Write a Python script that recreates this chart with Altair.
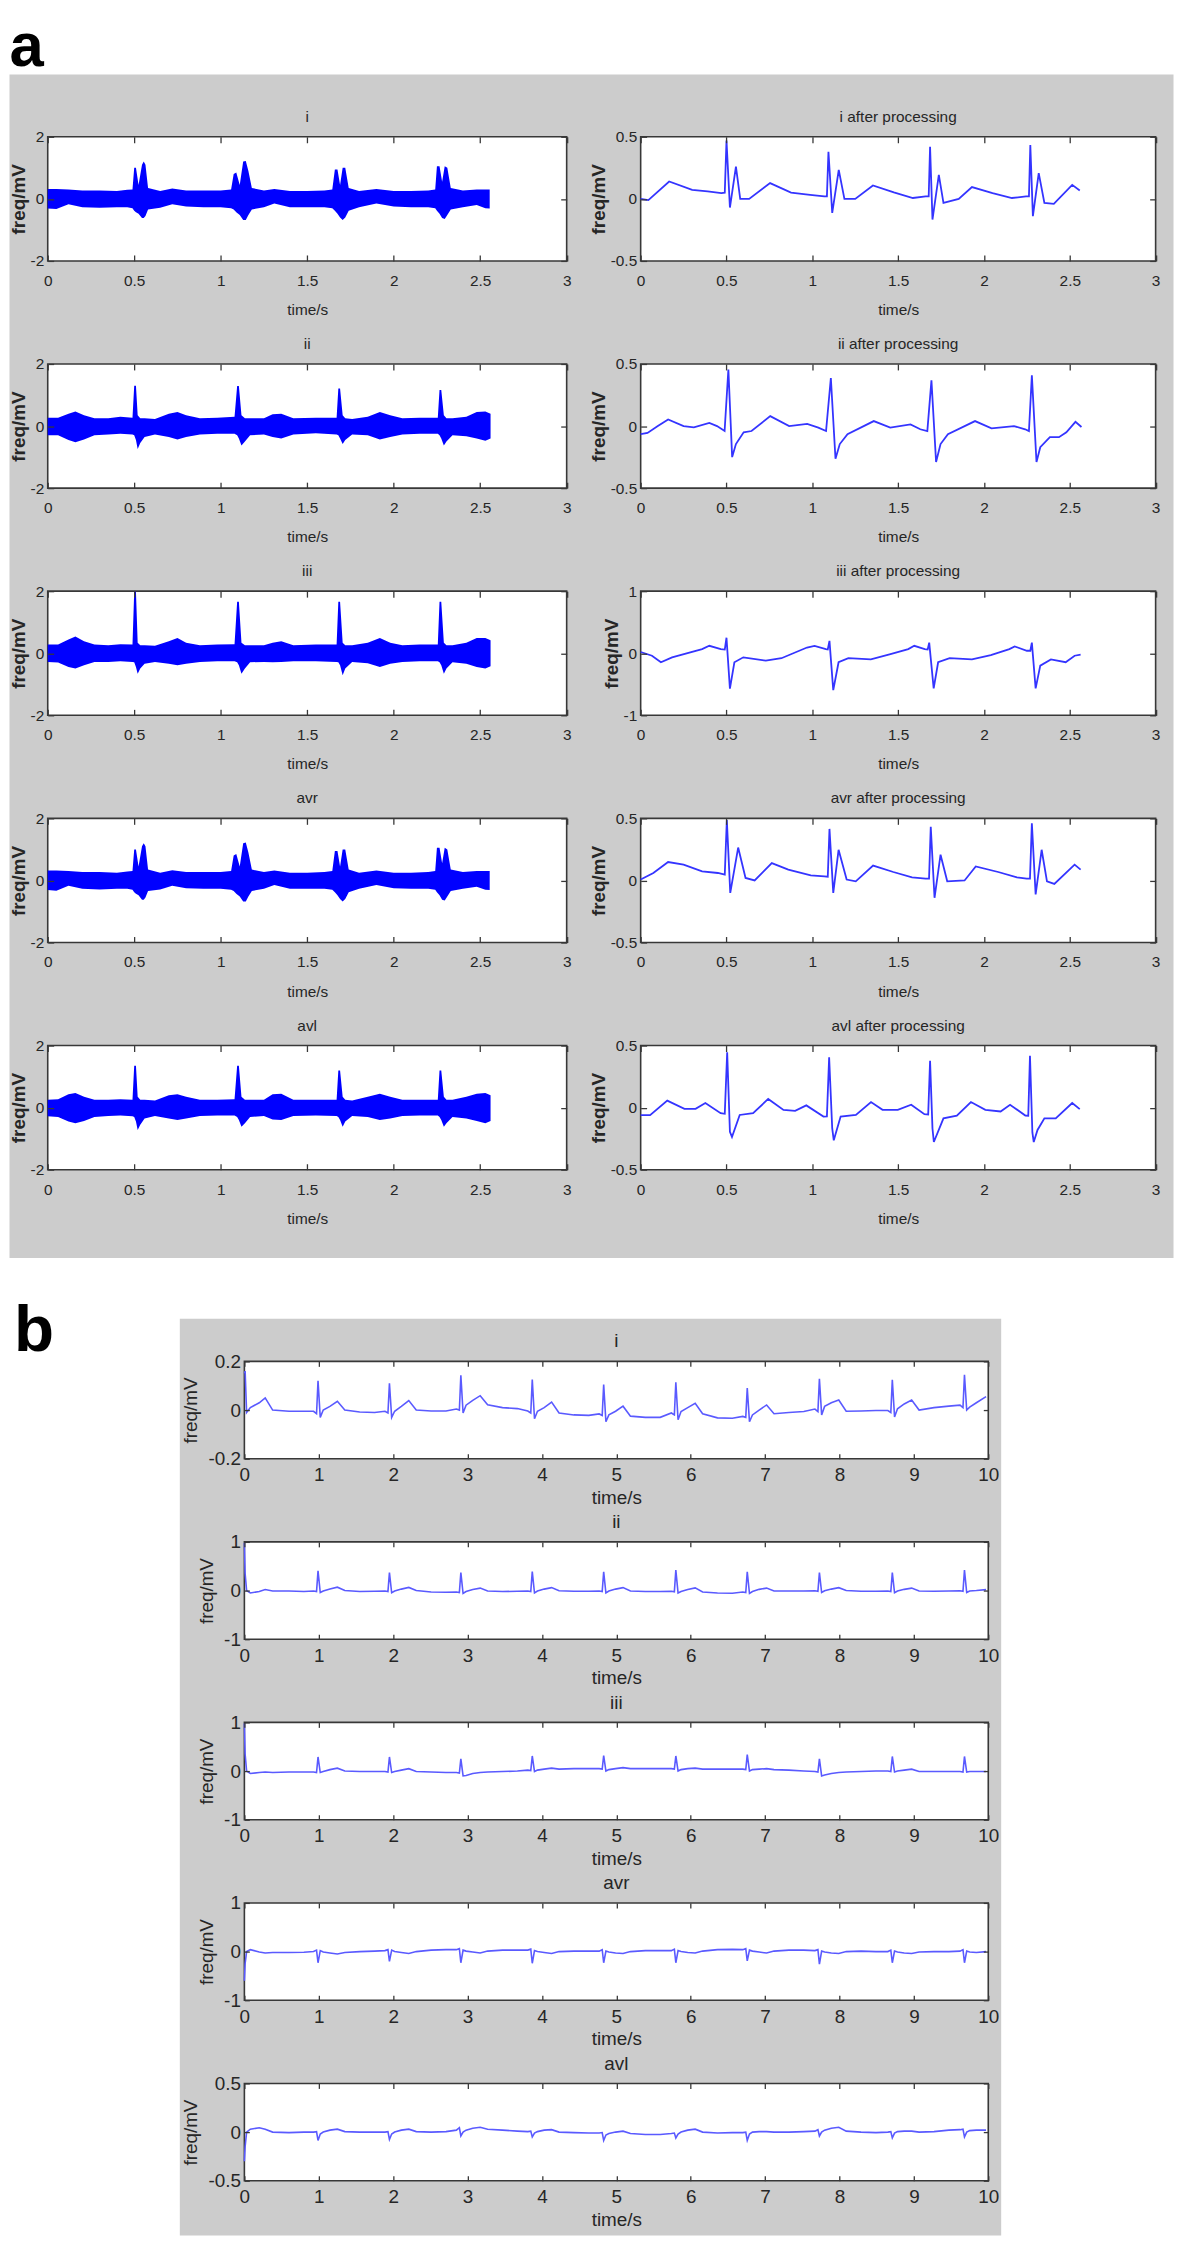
import altair as alt
import pandas as pd

# ---------------- Part a : raw leads (band envelopes) ----------------
I_RAW_T = [0, 0.05, 0.12, 0.2, 0.3, 0.4, 0.46, 0.49, 0.50, 0.51,
           0.525, 0.545, 0.555, 0.565, 0.58, 0.65, 0.72, 0.8, 0.9, 1.0,
           1.06, 1.075, 1.09, 1.11, 1.13, 1.145, 1.16, 1.18, 1.25, 1.31,
           1.4, 1.5, 1.6, 1.645, 1.66, 1.675, 1.69, 1.705, 1.72, 1.74,
           1.8, 1.9, 2.0, 2.1, 2.2, 2.24, 2.25, 2.265, 2.28, 2.295,
           2.31, 2.33, 2.4, 2.48, 2.53, 2.555]
I_RAW_UP = [0.32, 0.32, 0.3, 0.27, 0.27, 0.25, 0.29, 0.3, 1.0, 1.0,
            0.45, 1.1, 1.2, 1.1, 0.35, 0.25, 0.33, 0.27, 0.27, 0.27,
            0.3, 0.8, 0.85, 0.45, 1.2, 1.22, 0.9, 0.35, 0.27, 0.32,
            0.25, 0.25, 0.27, 0.3, 0.95, 0.95, 0.45, 1.0, 1.0, 0.35,
            0.25, 0.32, 0.25, 0.25, 0.27, 0.3, 1.05, 1.05, 0.55, 1.05,
            1.0, 0.35, 0.27, 0.3, 0.3, 0.3]
I_RAW_LO = [-0.31, -0.33, -0.17, -0.27, -0.29, -0.27, -0.27, -0.3, -0.38, -0.43,
            -0.48, -0.62, -0.62, -0.55, -0.34, -0.29, -0.17, -0.25, -0.27, -0.27,
            -0.3, -0.34, -0.43, -0.52, -0.68, -0.68, -0.52, -0.34, -0.27, -0.15,
            -0.27, -0.27, -0.27, -0.3, -0.38, -0.48, -0.6, -0.68, -0.6, -0.38,
            -0.27, -0.15, -0.25, -0.27, -0.27, -0.3, -0.38, -0.48, -0.62, -0.65,
            -0.52, -0.34, -0.27, -0.2, -0.3, -0.31]

II_RAW_T = [0, 0.06, 0.12, 0.16, 0.21, 0.27, 0.35, 0.42, 0.49, 0.50,
            0.51, 0.52, 0.535, 0.56, 0.62, 0.7, 0.75, 0.8, 0.88, 0.98,
            1.08, 1.095, 1.105, 1.12, 1.14, 1.17, 1.25, 1.3, 1.35, 1.42,
            1.55, 1.67, 1.68, 1.69, 1.705, 1.72, 1.76, 1.85, 1.92, 1.98,
            2.05, 2.15, 2.255, 2.265, 2.275, 2.29, 2.305, 2.34, 2.42, 2.48,
            2.53, 2.56]
II_RAW_UP = [0.27, 0.27, 0.4, 0.47, 0.35, 0.25, 0.25, 0.3, 0.27, 1.3,
             1.3, 0.35, 0.25, 0.25, 0.23, 0.4, 0.45, 0.35, 0.25, 0.27,
             0.3, 1.29, 1.29, 0.35, 0.25, 0.25, 0.25, 0.38, 0.4, 0.25,
             0.27, 0.27, 1.21, 1.21, 0.35, 0.25, 0.23, 0.3, 0.45, 0.35,
             0.25, 0.27, 0.27, 1.16, 1.16, 0.35, 0.25, 0.25, 0.3, 0.45,
             0.47, 0.4]
II_RAW_LO = [-0.3, -0.3, -0.45, -0.52, -0.43, -0.3, -0.27, -0.25, -0.27, -0.3,
             -0.45, -0.74, -0.55, -0.35, -0.27, -0.35, -0.43, -0.35, -0.27, -0.25,
             -0.25, -0.3, -0.4, -0.63, -0.5, -0.3, -0.27, -0.35, -0.4, -0.27,
             -0.23, -0.27, -0.3, -0.4, -0.58, -0.45, -0.27, -0.3, -0.43, -0.35,
             -0.27, -0.25, -0.25, -0.3, -0.4, -0.63, -0.5, -0.3, -0.33, -0.4,
             -0.47, -0.4]

III_RAW_UP = [0.28, 0.28, 0.44, 0.54, 0.39, 0.28, 0.26, 0.29, 0.28, 1.98,
              1.98, 0.34, 0.26, 0.26, 0.24, 0.39, 0.49, 0.34, 0.26, 0.28,
              0.29, 1.66, 1.66, 0.34, 0.26, 0.26, 0.26, 0.34, 0.39, 0.26,
              0.28, 0.28, 1.66, 1.66, 0.34, 0.26, 0.26, 0.34, 0.49, 0.34,
              0.26, 0.28, 0.28, 1.66, 1.66, 0.34, 0.26, 0.26, 0.34, 0.49,
              0.49, 0.42]
III_RAW_LO = [-0.28, -0.3, -0.44, -0.49, -0.39, -0.28, -0.28, -0.26, -0.28, -0.29,
              -0.44, -0.66, -0.49, -0.34, -0.28, -0.34, -0.39, -0.34, -0.28, -0.26,
              -0.26, -0.29, -0.39, -0.66, -0.49, -0.29, -0.28, -0.29, -0.28, -0.26,
              -0.26, -0.28, -0.29, -0.39, -0.71, -0.49, -0.28, -0.32, -0.44, -0.34,
              -0.28, -0.26, -0.26, -0.29, -0.39, -0.66, -0.49, -0.29, -0.34, -0.44,
              -0.49, -0.42]

AVL_RAW_UP = [0.25, 0.27, 0.43, 0.47, 0.35, 0.25, 0.25, 0.27, 0.25, 1.35,
              1.35, 0.35, 0.25, 0.25, 0.23, 0.4, 0.43, 0.35, 0.25, 0.25,
              0.27, 1.35, 1.35, 0.35, 0.25, 0.25, 0.25, 0.43, 0.45, 0.25,
              0.25, 0.25, 1.2, 1.2, 0.35, 0.25, 0.23, 0.35, 0.45, 0.35,
              0.25, 0.25, 0.25, 1.2, 1.2, 0.35, 0.25, 0.25, 0.35, 0.45,
              0.47, 0.4]
AVL_RAW_LO = [-0.28, -0.3, -0.45, -0.5, -0.43, -0.3, -0.27, -0.25, -0.28, -0.3,
              -0.45, -0.72, -0.55, -0.35, -0.27, -0.35, -0.4, -0.35, -0.27, -0.25,
              -0.25, -0.3, -0.4, -0.62, -0.5, -0.3, -0.27, -0.38, -0.4, -0.27,
              -0.25, -0.27, -0.3, -0.4, -0.62, -0.45, -0.27, -0.3, -0.4, -0.35,
              -0.27, -0.25, -0.25, -0.3, -0.4, -0.62, -0.5, -0.3, -0.35, -0.43,
              -0.5, -0.43]

# ---------------- Part a : processed leads ----------------
I_PROC_T = [0, 0.045, 0.166, 0.30, 0.39, 0.47, 0.49, 0.50, 0.52, 0.555,
            0.58, 0.632, 0.754, 0.876, 0.987, 1.07, 1.085, 1.094, 1.116, 1.154,
            1.187, 1.25, 1.353, 1.475, 1.586, 1.66, 1.678, 1.686, 1.70, 1.737,
            1.764, 1.853, 1.93, 2.05, 2.163, 2.245, 2.262, 2.27, 2.285, 2.319,
            2.352, 2.407, 2.514, 2.558]
I_PROC_V = [0.0, -0.01, 0.14, 0.073, 0.06, 0.047, 0.05, 0.47, -0.07, 0.26,
            0.0, 0.0, 0.127, 0.05, 0.033, 0.02, 0.02, 0.38, -0.113, 0.233,
            0.0, 0.0, 0.108, 0.052, 0.007, 0.02, 0.02, 0.42, -0.167, 0.193,
            -0.033, 0.0, 0.095, 0.047, 0.007, 0.02, 0.02, 0.433, -0.14, 0.207,
            -0.033, -0.04, 0.113, 0.068]

II_PROC_T = [0, 0.04, 0.1, 0.16, 0.25, 0.31, 0.40, 0.445, 0.489, 0.511,
             0.533, 0.555, 0.6, 0.646, 0.755, 0.865, 0.97, 1.035, 1.08, 1.108,
             1.135, 1.16, 1.205, 1.358, 1.454, 1.572, 1.629, 1.67, 1.694, 1.721,
             1.747, 1.79, 1.948, 2.044, 2.175, 2.24, 2.262, 2.279, 2.306, 2.328,
             2.384, 2.437, 2.48, 2.533, 2.568]
II_PROC_V = [-0.066, -0.055, 0.0, 0.053, 0.0, -0.01, 0.026, 0.0, -0.04, 0.455,
             -0.25, -0.145, -0.05, -0.04, 0.08, 0.0, 0.018, -0.013, -0.04, 0.387,
             -0.263, -0.145, -0.066, 0.04, -0.013, 0.013, -0.026, -0.04, 0.368, -0.29,
             -0.145, -0.066, 0.04, -0.018, 0.0, -0.026, -0.04, 0.408, -0.29, -0.17,
             -0.09, -0.09, -0.05, 0.034, -0.008]

III_PROC_T = [0, 0.066, 0.118, 0.183, 0.358, 0.40, 0.467, 0.49, 0.50, 0.52,
              0.546, 0.598, 0.729, 0.82, 0.969, 1.013, 1.079, 1.09, 1.1, 1.122,
              1.153, 1.21, 1.341, 1.45, 1.559, 1.594, 1.655, 1.672, 1.681, 1.707,
              1.733, 1.8, 1.93, 2.04, 2.148, 2.179, 2.25, 2.27, 2.279, 2.301,
              2.328, 2.39, 2.476, 2.528, 2.563]
III_PROC_V = [0.02, -0.04, -0.145, -0.066, 0.066, 0.12, 0.066, 0.06, 0.25, -0.57,
              -0.145, -0.066, -0.12, -0.08, 0.092, 0.118, 0.066, 0.06, 0.2, -0.594,
              -0.145, -0.08, -0.1, -0.02, 0.066, 0.12, 0.066, 0.06, 0.17, -0.567,
              -0.145, -0.08, -0.1, -0.03, 0.066, 0.11, 0.04, 0.04, 0.17, -0.567,
              -0.2, -0.1, -0.145, -0.04, -0.024]

AVR_PROC_T = [0, 0.074, 0.16, 0.25, 0.358, 0.45, 0.49, 0.502, 0.522, 0.568,
              0.611, 0.664, 0.764, 0.86, 0.991, 1.07, 1.09, 1.1, 1.122, 1.153,
              1.2, 1.253, 1.354, 1.472, 1.581, 1.66, 1.68, 1.69, 1.712, 1.747,
              1.786, 1.887, 1.952, 2.083, 2.192, 2.249, 2.268, 2.279, 2.301, 2.336,
              2.367, 2.41, 2.528, 2.563]
AVR_PROC_V = [0.007, 0.06, 0.148, 0.127, 0.073, 0.06, 0.047, 0.487, -0.1, 0.265,
              0.02, 0.0, 0.14, 0.087, 0.041, 0.033, 0.03, 0.415, -0.1, 0.247,
              0.007, -0.007, 0.12, 0.068, 0.025, 0.015, 0.015, 0.433, -0.14, 0.207,
              -0.007, 0.0, 0.113, 0.068, 0.025, 0.015, 0.015, 0.46, -0.113, 0.247,
              -0.007, -0.028, 0.127, 0.087]

AVL_PROC_T = [0, 0.055, 0.155, 0.255, 0.32, 0.377, 0.466, 0.49, 0.504, 0.52,
              0.532, 0.577, 0.655, 0.743, 0.832, 0.9, 0.965, 1.065, 1.085, 1.098,
              1.116, 1.125, 1.165, 1.254, 1.342, 1.409, 1.498, 1.576, 1.653, 1.675,
              1.686, 1.70, 1.708, 1.764, 1.842, 1.924, 2.008, 2.097, 2.152, 2.241,
              2.258, 2.268, 2.282, 2.29, 2.312, 2.352, 2.418, 2.514, 2.558]
AVL_PROC_V = [-0.06, -0.06, 0.056, -0.01, -0.01, 0.037, -0.045, -0.05, 0.445, -0.195,
              -0.236, -0.059, -0.045, 0.07, -0.018, -0.026, 0.018, -0.072, -0.07, 0.405,
              -0.168, -0.263, -0.072, -0.059, 0.045, -0.018, -0.018, 0.023, -0.053, -0.055,
              0.377, -0.168, -0.277, -0.086, -0.064, 0.045, -0.018, -0.031, 0.023, -0.064,
              -0.065, 0.418, -0.2, -0.277, -0.18, -0.086, -0.086, 0.037, -0.012]

# ---------------- Part b : 10 s recordings (shared time base) ----------------
B_T = [0.0, 0.01, 0.03, 0.08, 0.2, 0.28, 0.38, 0.6, 0.8,
       0.93, 0.97, 0.99, 1.02, 1.06, 1.15, 1.25, 1.35, 1.55, 1.75,
       1.89, 1.93, 1.95, 1.98, 2.02, 2.11, 2.21, 2.31, 2.51, 2.71,
       2.85, 2.89, 2.91, 2.94, 2.98, 3.07, 3.17, 3.27, 3.47, 3.67,
       3.81, 3.85, 3.87, 3.90, 3.94, 4.03, 4.13, 4.23, 4.43, 4.63,
       4.77, 4.81, 4.83, 4.86, 4.90, 4.99, 5.09, 5.19, 5.39, 5.59,
       5.74, 5.78, 5.80, 5.83, 5.87, 5.96, 6.06, 6.16, 6.36, 6.56,
       6.70, 6.74, 6.76, 6.79, 6.83, 6.92, 7.02, 7.12, 7.32, 7.52,
       7.67, 7.71, 7.73, 7.76, 7.80, 7.89, 7.99, 8.09, 8.29, 8.49,
       8.65, 8.69, 8.71, 8.74, 8.78, 8.87, 8.97, 9.07, 9.27, 9.47,
       9.62, 9.66, 9.68, 9.71, 9.75, 9.84, 9.97]
B_I = [0.15, 0.16, -0.01, 0.01, 0.03, 0.05, 0.0, -0.005, -0.005,
       -0.005, -0.015, 0.12, -0.03, 0.0, 0.015, 0.036, 0.0, -0.008, -0.01,
       -0.005, -0.012, 0.11, -0.03, -0.005, 0.015, 0.039, 0.0, -0.004, -0.004,
       0.004, 0.0, 0.143, -0.012, 0.02, 0.04, 0.059, 0.022, 0.01, 0.006,
       -0.004, -0.012, 0.125, -0.036, -0.005, 0.01, 0.033, -0.012, -0.02, -0.022,
       -0.016, -0.022, 0.105, -0.048, -0.02, -0.005, 0.016, -0.025, -0.03, -0.03,
       -0.012, -0.02, 0.114, -0.04, -0.006, 0.01, 0.028, -0.015, -0.032, -0.034,
       -0.026, -0.03, 0.09, -0.048, -0.02, 0.0, 0.021, -0.015, -0.01, -0.006,
       0.004, -0.006, 0.128, -0.02, 0.015, 0.03, 0.041, -0.005, -0.004, -0.002,
       -0.002, -0.01, 0.124, -0.028, 0.005, 0.025, 0.041, 0.0, 0.01, 0.016,
       0.02, 0.01, 0.145, 0.0, 0.012, 0.03, 0.055]
B_II = [0.98, 0.35, 0.0, -0.05, -0.02, 0.02, -0.01, -0.01, -0.02,
        -0.01, -0.02, 0.405, -0.04, -0.01, 0.03, 0.07, 0.0, -0.02, -0.015,
        -0.01, -0.02, 0.37, -0.045, -0.01, 0.03, 0.065, 0.0, -0.03, -0.035,
        -0.03, -0.04, 0.37, -0.06, -0.02, 0.02, 0.05, -0.01, -0.02, -0.015,
        -0.01, -0.02, 0.39, -0.05, -0.01, 0.03, 0.06, -0.005, -0.015, -0.014,
        -0.01, -0.02, 0.385, -0.05, -0.01, 0.03, 0.06, -0.01, -0.02, -0.02,
        -0.015, -0.025, 0.42, -0.05, -0.02, 0.02, 0.055, -0.03, -0.05, -0.054,
        -0.03, -0.04, 0.385, -0.06, -0.02, 0.025, 0.05, -0.01, -0.01, -0.01,
        -0.005, -0.015, 0.37, -0.04, -0.005, 0.03, 0.06, 0.0, -0.014, -0.014,
        -0.01, -0.02, 0.37, -0.045, -0.01, 0.025, 0.05, -0.01, -0.015, -0.01,
        -0.005, -0.015, 0.42, -0.04, -0.01, 0.0, 0.02]
B_III = [0.98, 0.35, 0.0, -0.05, -0.03, -0.02, -0.03, -0.02, -0.02,
         -0.02, -0.03, 0.29, -0.03, -0.01, 0.03, 0.06, 0.0, -0.01, -0.01,
         -0.01, -0.02, 0.29, -0.03, -0.01, 0.02, 0.05, -0.01, -0.02, -0.03,
         -0.03, -0.04, 0.25, -0.1, -0.09, -0.05, -0.03, -0.02, -0.01, 0.0,
         0.02, 0.01, 0.31, -0.01, 0.02, 0.04, 0.06, 0.04, 0.05, 0.05,
         0.05, 0.04, 0.32, 0.0, 0.03, 0.05, 0.07, 0.05, 0.05, 0.05,
         0.05, 0.04, 0.31, 0.0, 0.03, 0.05, 0.06, 0.04, 0.04, 0.04,
         0.04, 0.03, 0.34, 0.0, 0.03, 0.04, 0.05, 0.03, 0.02, 0.0,
         -0.01, -0.02, 0.25, -0.1, -0.08, -0.05, -0.03, -0.02, -0.01, 0.0,
         0.0, -0.01, 0.3, -0.02, 0.0, 0.02, 0.04, -0.01, -0.01, -0.01,
         -0.01, -0.02, 0.3, -0.02, -0.01, -0.01, -0.01]
B_AVR = [-0.6, -0.25, 0.0, 0.04, -0.01, -0.03, -0.02, -0.02, -0.015,
         0.0, 0.03, -0.23, 0.02, -0.01, -0.03, -0.05, -0.02, 0.0, 0.01,
         0.02, 0.04, -0.2, 0.03, 0.0, -0.02, -0.04, 0.0, 0.03, 0.04,
         0.04, 0.06, -0.23, 0.03, 0.01, -0.01, -0.03, 0.01, 0.03, 0.03,
         0.03, 0.05, -0.24, 0.02, 0.0, -0.02, -0.04, 0.0, 0.01, 0.01,
         0.01, 0.04, -0.23, 0.01, -0.01, -0.03, -0.04, 0.0, 0.02, 0.02,
         0.02, 0.05, -0.23, 0.02, 0.0, -0.02, -0.03, 0.01, 0.04, 0.045,
         0.04, 0.06, -0.19, 0.03, 0.01, -0.01, -0.03, 0.01, 0.03, 0.03,
         0.02, 0.04, -0.26, 0.01, -0.01, -0.03, -0.04, 0.0, 0.01, 0.0,
         0.0, 0.03, -0.23, 0.01, -0.01, -0.03, -0.04, -0.01, 0.0, 0.0,
         0.01, 0.04, -0.23, 0.01, -0.01, -0.02, 0.0]
B_AVL = [-0.3, -0.15, 0.0, 0.03, 0.045, 0.03, 0.0, -0.005, 0.0,
         0.0, 0.005, -0.086, -0.02, 0.0, 0.02, 0.03, 0.005, 0.0, 0.0,
         0.0, 0.005, -0.076, -0.02, 0.0, 0.02, 0.03, 0.005, 0.0, 0.005,
         0.02, 0.045, -0.04, 0.0, 0.02, 0.04, 0.05, 0.03, 0.02, 0.01,
         0.005, 0.01, -0.05, -0.01, 0.005, 0.02, 0.025, 0.0, -0.005, -0.01,
         -0.01, -0.005, -0.086, -0.03, -0.015, 0.0, 0.01, -0.015, -0.025, -0.025,
         -0.015, -0.01, -0.06, -0.02, 0.0, 0.02, 0.03, 0.0, -0.01, -0.005,
         -0.005, 0.0, -0.086, -0.02, 0.0, 0.005, 0.005, 0.0, 0.0, 0.005,
         0.01, 0.025, -0.04, 0.0, 0.02, 0.04, 0.05, 0.01, 0.0, -0.005,
         0.0, 0.005, -0.06, -0.01, 0.005, 0.01, 0.01, 0.0, 0.005, 0.02,
         0.025, 0.03, -0.05, 0.0, 0.015, 0.02, 0.02]

A_XTICKS = [0, 0.5, 1, 1.5, 2, 2.5, 3]
B_XTICKS = [0, 1, 2, 3, 4, 5, 6, 7, 8, 9, 10]

# ---------------- styling ----------------
FONT = "Liberation Sans, Arial, sans-serif"
GREY = "#cccccc"
BOX = "#383838"
TXT = "#262626"
RAW_BLUE = "#0000ff"
PROC_BLUE = "#3434ff"
B_BLUE = "#5a5aff"
ONE = alt.Data(values=[{"k": 0}])

STYLE_A = dict(fs=15.5, tick=6, xlp=12.5, xtp=14, ylp=4, ytp=2,
               ytw="bold", tb=-15, lw=1.8, col=PROC_BLUE)
STYLE_B = dict(fs=19, tick=5, xlp=7, xtp=4, ylp=4, ytp=7,
               ytw="normal", tb=-14, lw=1.6, col=B_BLUE)

LBL = "'' + datum.value"


def panel(df, kind, xdom, xticks, ydom, yticks, W, H, title, s, pre=()):
    xs = alt.Scale(domain=xdom, nice=False, zero=False)
    ys = alt.Scale(domain=ydom, nice=False, zero=False)
    tk = dict(offset=-s["tick"], tickSize=s["tick"], tickWidth=1.3, tickColor=BOX,
              domain=False, grid=False, zindex=1)
    xb = alt.Axis(orient="bottom", values=xticks, labelExpr=LBL, labelFont=FONT,
                  labelFontSize=s["fs"], labelColor=TXT, labelPadding=s["xlp"],
                  labelFlush=False, labelOverlap=False, title="time/s",
                  titleFont=FONT, titleFontSize=s["fs"], titleFontWeight="normal",
                  titleColor=TXT, titlePadding=s["xtp"], **tk)
    yl = alt.Axis(orient="left", values=yticks, labelExpr=LBL, labelFont=FONT,
                  labelFontSize=s["fs"], labelColor=TXT, labelPadding=s["ylp"],
                  labelFlush=False, labelOverlap=False, title="freq/mV",
                  titleFont=FONT, titleFontSize=19, titleFontWeight=s["ytw"],
                  titleColor=TXT, titlePadding=s["ytp"], **tk)
    xt = alt.Axis(orient="top", values=xticks, labels=False, title=None, **tk)
    yr = alt.Axis(orient="right", values=yticks, labels=False, title=None, **tk)

    box = alt.Chart(ONE).mark_rect(fill="white", stroke=BOX, strokeWidth=1.6).encode(
        x=alt.value(0), x2=alt.value(W), y=alt.value(0), y2=alt.value(H))
    if kind == "band":
        main = alt.Chart(df).mark_area(color=RAW_BLUE, opacity=1).encode(
            x=alt.X("t:Q", scale=xs, axis=xb),
            y=alt.Y("up:Q", scale=ys, axis=yl),
            y2="lo:Q")
        ghost = alt.Chart(df).mark_line(opacity=0).encode(
            x=alt.X("t:Q", scale=xs, axis=xt),
            y=alt.Y("up:Q", scale=ys, axis=yr))
    else:
        main = alt.Chart(df).mark_line(color=s["col"], strokeWidth=s["lw"]).encode(
            x=alt.X("t:Q", scale=xs, axis=xb),
            y=alt.Y("v:Q", scale=ys, axis=yl))
        ghost = alt.Chart(df).mark_line(opacity=0).encode(
            x=alt.X("t:Q", scale=xs, axis=xt),
            y=alt.Y("v:Q", scale=ys, axis=yr))
    ttl = alt.Chart(ONE).mark_text(text=title, font=FONT, fontSize=s["fs"],
                                   color=TXT, align="center", baseline="alphabetic").encode(
        x=alt.value(W / 2), y=alt.value(s["tb"]))
    layers = list(pre) + [box, main, ghost, ttl]
    return alt.layer(*layers).properties(width=W, height=H).resolve_axis(
        x="independent", y="independent")


def band(t, up, lo):
    return pd.DataFrame({"t": t, "up": up, "lo": lo})


def line(t, v):
    return pd.DataFrame({"t": t, "v": v})


# ---------------- Part a ----------------
WL, WR, HA = 522.5, 518.5, 125
grey_a = alt.Chart(ONE).mark_rect(fill=GREY).encode(
    x=alt.value(-38.5), x2=alt.value(1133.5), y=alt.value(-62.7), y2=alt.value(1129))
label_a = alt.Chart(ONE).mark_text(text="a", font=FONT, fontSize=62, fontWeight="bold",
                                   color="black", align="left", baseline="alphabetic").encode(
    x=alt.value(-38.5), y=alt.value(-71.2))

raw_y = ([-2, 2], [-2, 0, 2])
half_y = ([-0.5, 0.5], [-0.5, 0, 0.5])
one_y = ([-1, 1], [-1, 0, 1])

a_panels = [
    panel(band(I_RAW_T, I_RAW_UP, I_RAW_LO), "band", [0, 3], A_XTICKS, *raw_y, WL, HA, "i",
          STYLE_A, pre=(grey_a, label_a)),
    panel(line(I_PROC_T, I_PROC_V), "line", [0, 3], A_XTICKS, *half_y, WR, HA,
          "i after processing", STYLE_A),
    panel(band(II_RAW_T, II_RAW_UP, II_RAW_LO), "band", [0, 3], A_XTICKS, *raw_y, WL, HA, "ii",
          STYLE_A),
    panel(line(II_PROC_T, II_PROC_V), "line", [0, 3], A_XTICKS, *half_y, WR, HA,
          "ii after processing", STYLE_A),
    panel(band(II_RAW_T, III_RAW_UP, III_RAW_LO), "band", [0, 3], A_XTICKS, *raw_y, WL, HA,
          "iii", STYLE_A),
    panel(line(III_PROC_T, III_PROC_V), "line", [0, 3], A_XTICKS, *one_y, WR, HA,
          "iii after processing", STYLE_A),
    panel(band(I_RAW_T, I_RAW_UP, I_RAW_LO), "band", [0, 3], A_XTICKS, *raw_y, WL, HA, "avr",
          STYLE_A),
    panel(line(AVR_PROC_T, AVR_PROC_V), "line", [0, 3], A_XTICKS, *half_y, WR, HA,
          "avr after processing", STYLE_A),
    panel(band(II_RAW_T, AVL_RAW_UP, AVL_RAW_LO), "band", [0, 3], A_XTICKS, *raw_y, WL, HA,
          "avl", STYLE_A),
    panel(line(AVL_PROC_T, AVL_PROC_V), "line", [0, 3], A_XTICKS, *half_y, WR, HA,
          "avl after processing", STYLE_A),
]
part_a = alt.concat(*a_panels, columns=2, spacing={"row": 103.75, "column": 74},
                    bounds="flush")

# ---------------- Part b ----------------
WB, HB = 749, 98
grey_b = alt.Chart(ONE).mark_rect(fill=GREY).encode(
    x=alt.value(-65), x2=alt.value(762), y=alt.value(-43), y2=alt.value(880))
b_panels = [
    panel(line(B_T, B_I), "line", [0, 10], B_XTICKS, [-0.2, 0.2], [-0.2, 0, 0.2], WB, HB,
          "i", STYLE_B, pre=(grey_b,)),
    panel(line(B_T, B_II), "line", [0, 10], B_XTICKS, *one_y, WB, HB, "ii", STYLE_B),
    panel(line(B_T, B_III), "line", [0, 10], B_XTICKS, *one_y, WB, HB, "iii", STYLE_B),
    panel(line(B_T, B_AVR), "line", [0, 10], B_XTICKS, *one_y, WB, HB, "avr", STYLE_B),
    panel(line(B_T, B_AVL), "line", [0, 10], B_XTICKS, *half_y, WB, HB, "avl", STYLE_B),
]
part_b = alt.vconcat(*b_panels, spacing=83.75, bounds="flush")

spacer = alt.Chart(ONE).mark_text(text="b", font=FONT, fontSize=66, fontWeight="bold",
                                  color="black", align="left", baseline="alphabetic").encode(
    x=alt.value(-34), y=alt.value(-10)).properties(width=197.5, height=1)
wrapper = alt.hconcat(spacer, part_b, spacing=0, bounds="flush")

chart = alt.vconcat(part_a, wrapper, spacing=39).properties(
    padding={"left": 0, "top": 0, "right": 0, "bottom": 0},
    background="white").configure(padding={"left": 0, "top": 0, "right": 0, "bottom": 0}
                                  ).configure_view(stroke="transparent")

chart.save("out.html", embed_options={"renderer": "svg", "actions": False})
